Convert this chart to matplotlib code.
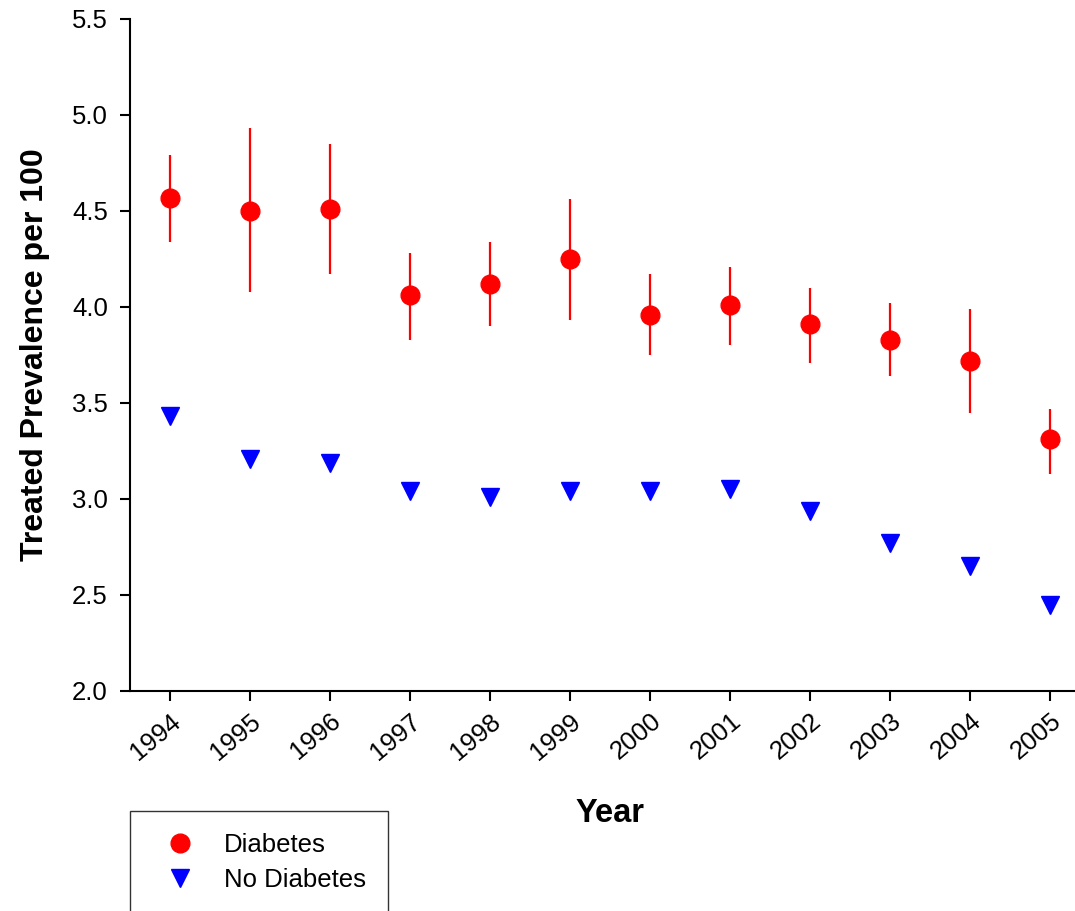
import matplotlib.pyplot as plt
from matplotlib.lines import Line2D
import numpy as np

plt.rcParams['font.family'] = ['Liberation Sans', 'DejaVu Sans']

# treated prevalence per 100, by year
years = [1994, 1995, 1996, 1997, 1998, 1999, 2000, 2001, 2002, 2003, 2004, 2005]
diab = [4.57, 4.50, 4.51, 4.06, 4.12, 4.25, 3.96, 4.01, 3.91, 3.83, 3.72, 3.31]
diab_lo = [4.34, 4.08, 4.17, 3.83, 3.90, 3.93, 3.75, 3.80, 3.71, 3.64, 3.45, 3.13]
diab_hi = [4.79, 4.93, 4.85, 4.28, 4.34, 4.56, 4.17, 4.21, 4.10, 4.02, 3.99, 3.47]
no_diab = [3.43, 3.21, 3.19, 3.04, 3.01, 3.04, 3.04, 3.05, 2.94, 2.77, 2.65, 2.45]

x = np.array(years)
d = np.array(diab)
yerr = [d - np.array(diab_lo), np.array(diab_hi) - d]

fig = plt.figure(figsize=(10.75, 9.11), dpi=100)
ax = fig.add_axes([130 / 1075, 1 - 691 / 911, 945 / 1075, 672 / 911])

ax.errorbar(x, d, yerr=yerr, fmt='o', color='red', ecolor='red',
            elinewidth=1.6, capsize=0, markersize=13.5)
ax.plot(x, no_diab, 'v', color='blue', markersize=13.5, linestyle='none')

ax.set_xlim(1993.5, 2005.31)
ax.set_ylim(2.0, 5.5)
ax.set_yticks(np.arange(2.0, 5.51, 0.5))
ax.set_yticklabels([f'{v:.1f}' for v in np.arange(2.0, 5.51, 0.5)])
ax.set_xticks(years)
ax.set_xticklabels([str(y) for y in years], rotation=40, ha='right',
                   rotation_mode='anchor')

for side in ['top', 'right']:
    ax.spines[side].set_visible(False)
for side in ['left', 'bottom']:
    ax.spines[side].set_linewidth(1.5)
ax.tick_params(axis='y', direction='out', length=7, width=1.5,
               labelsize=18.5, pad=9)
ax.tick_params(axis='x', direction='out', length=7, width=1.5,
               labelsize=18.5, pad=6)

ax.set_ylabel('Treated Prevalence per 100', fontsize=23, fontweight='bold',
              labelpad=16)
fig.text(610 / 1075, 1 - 814 / 911, 'Year', fontsize=23.5, fontweight='bold',
         ha='center', va='center')

handles = [
    Line2D([], [], marker='o', color='red', linestyle='none', markersize=13.5),
    Line2D([], [], marker='v', color='blue', linestyle='none', markersize=13.5),
]
leg = fig.legend(handles, ['Diabetes', 'No Diabetes'], loc='upper left',
                 bbox_to_anchor=(130 / 1075, 1 - 811 / 911),
                 fontsize=18.5, frameon=True, fancybox=False, borderpad=0.85,
                 handletextpad=0.62, labelspacing=0.42, borderaxespad=0,
                 handlelength=2.2)
leg.get_frame().set_edgecolor('black')
leg.get_frame().set_linewidth(1.0)

fig.savefig('out.png', dpi=100)
